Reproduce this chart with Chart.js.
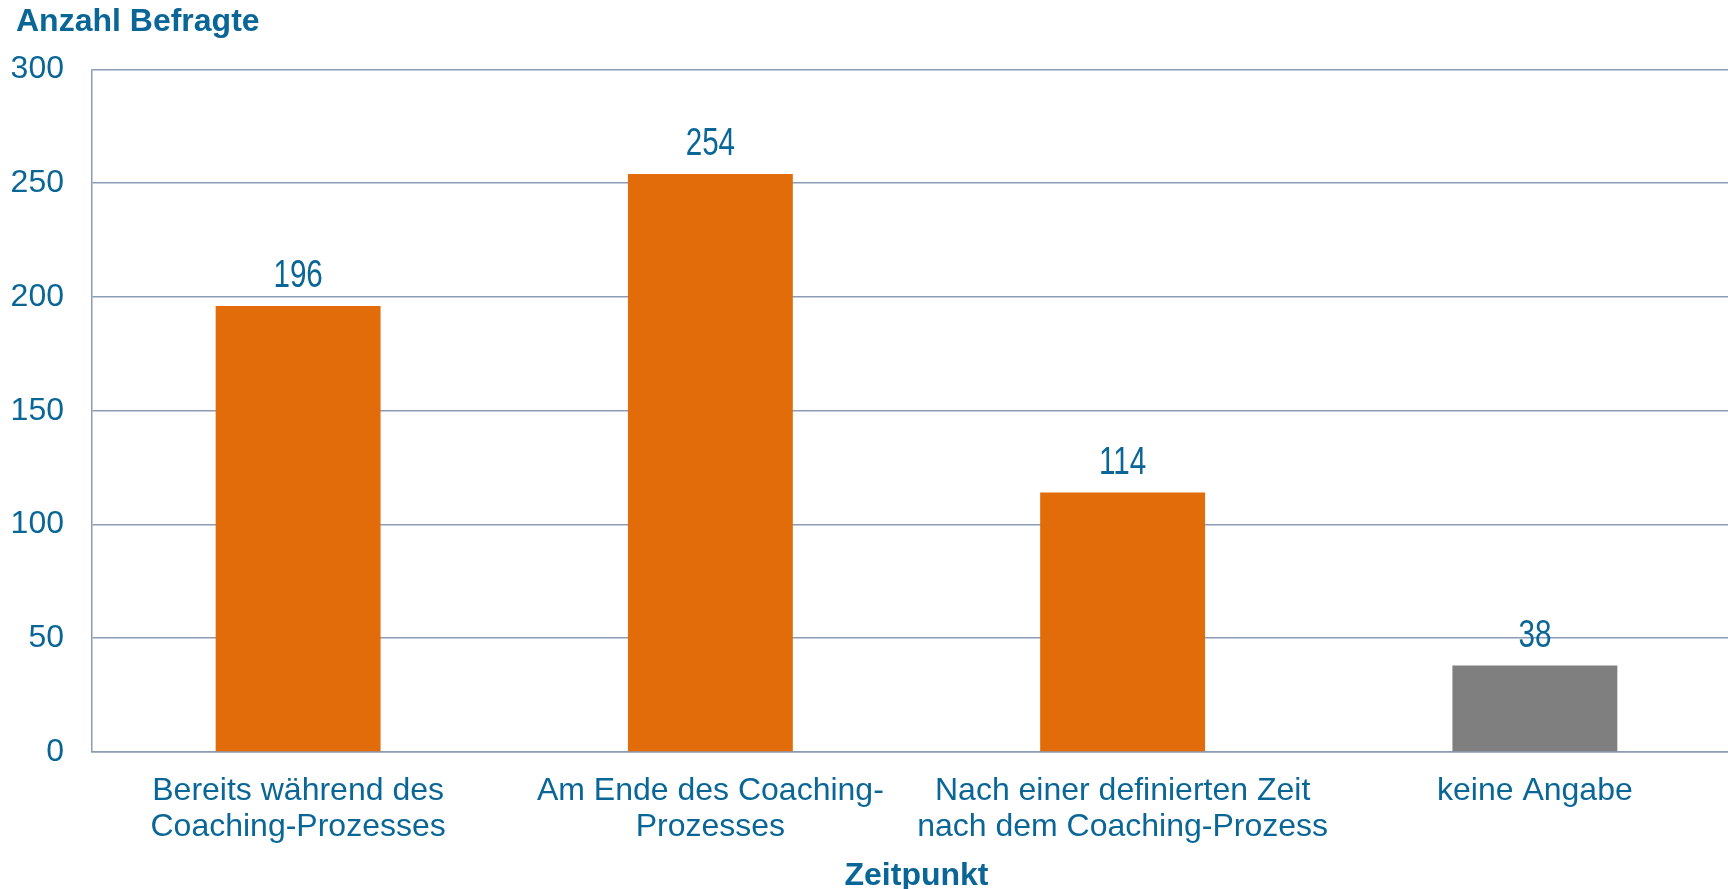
<!DOCTYPE html>
<html>
<head>
<meta charset="utf-8">
<script src="https://cdn.jsdelivr.net/npm/chart.js@4"></script>
<style>
html,body{margin:0;padding:0;background:#fff;overflow:hidden;width:1728px;height:889px;}
#wrap{position:absolute;left:0;top:0;width:1745px;height:889px;}
</style>
</head>
<body>
<div id="wrap"><canvas id="c" width="1745" height="889"></canvas></div>
<script>
const categories = [
  ["Bereits während des", "Coaching-Prozesses"],
  ["Am Ende des Coaching-", "Prozesses"],
  ["Nach einer definierten Zeit", "nach dem Coaching-Prozess"],
  ["keine Angabe"]
];
const values = [196, 254, 114, 38];
const barColors = ["#E36C0A", "#E36C0A", "#E36C0A", "#7F7F7F"];
const yTitle = "Anzahl Befragte";
const xTitle = "Zeitpunkt";

const TEXT = "#0A6696";
const GRID = "#8A9BB3";
const FAMILY = '"Liberation Sans", Arial, sans-serif';

const valueLabels = {
  id: "valueLabels",
  afterLayout(chart) {
    if (chart.titleBlock) { chart.titleBlock.left = 16; }
  },
  afterDatasetsDraw(chart) {
    const ctx = chart.ctx;
    const meta = chart.getDatasetMeta(0);
    ctx.save();
    ctx.fillStyle = TEXT;
    ctx.font = '39px ' + FAMILY;
    ctx.textAlign = "center";
    ctx.textBaseline = "alphabetic";
    meta.data.forEach((bar, i) => {
      ctx.save();
      ctx.translate(bar.x, bar.y - 19);
      ctx.scale(0.76, 1);
      ctx.fillText(String(values[i]), 0, 0);
      ctx.restore();
    });
    ctx.restore();
  }
};

new Chart(document.getElementById("c"), {
  type: "bar",
  data: {
    labels: categories,
    datasets: [{
      data: values,
      backgroundColor: barColors,
      borderWidth: 0,
      categoryPercentage: 1,
      barPercentage: 0.4
    }]
  },
  options: {
    responsive: false,
    animation: false,
    layout: { padding: { left: 8, right: 4, top: 0, bottom: 0 } },
    plugins: {
      legend: { display: false },
      tooltip: { enabled: false },
      title: {
        display: true,
        text: yTitle,
        align: "start",
        color: TEXT,
        font: { family: FAMILY, size: 32, weight: "bold", lineHeight: 1.2 },
        padding: { top: 3, bottom: 28 }
      }
    },
    scales: {
      x: {
        afterFit(scale) { scale.height = 137; },
        grid: { display: false, drawTicks: false },
        border: { display: true, color: GRID, width: 1.5 },
        ticks: {
          color: TEXT,
          font: { family: FAMILY, size: 32, lineHeight: 1.1 },
          padding: 22,
          maxRotation: 0,
          autoSkip: false
        },
        title: {
          display: true,
          text: xTitle,
          color: TEXT,
          font: { family: FAMILY, size: 32, weight: "bold", lineHeight: 0.8 },
          padding: { top: 0, bottom: 0 }
        }
      },
      y: {
        min: 0,
        max: 300,
        afterFit(scale) { scale.width = 84; },
        ticks: {
          stepSize: 50,
          color: TEXT,
          font: { family: FAMILY, size: 32 },
          padding: 28
        },
        grid: { color: GRID, lineWidth: 1.5, drawTicks: false },
        border: { display: true, color: GRID, width: 1.5 }
      }
    }
  },
  plugins: [valueLabels]
});
</script>
</body>
</html>
